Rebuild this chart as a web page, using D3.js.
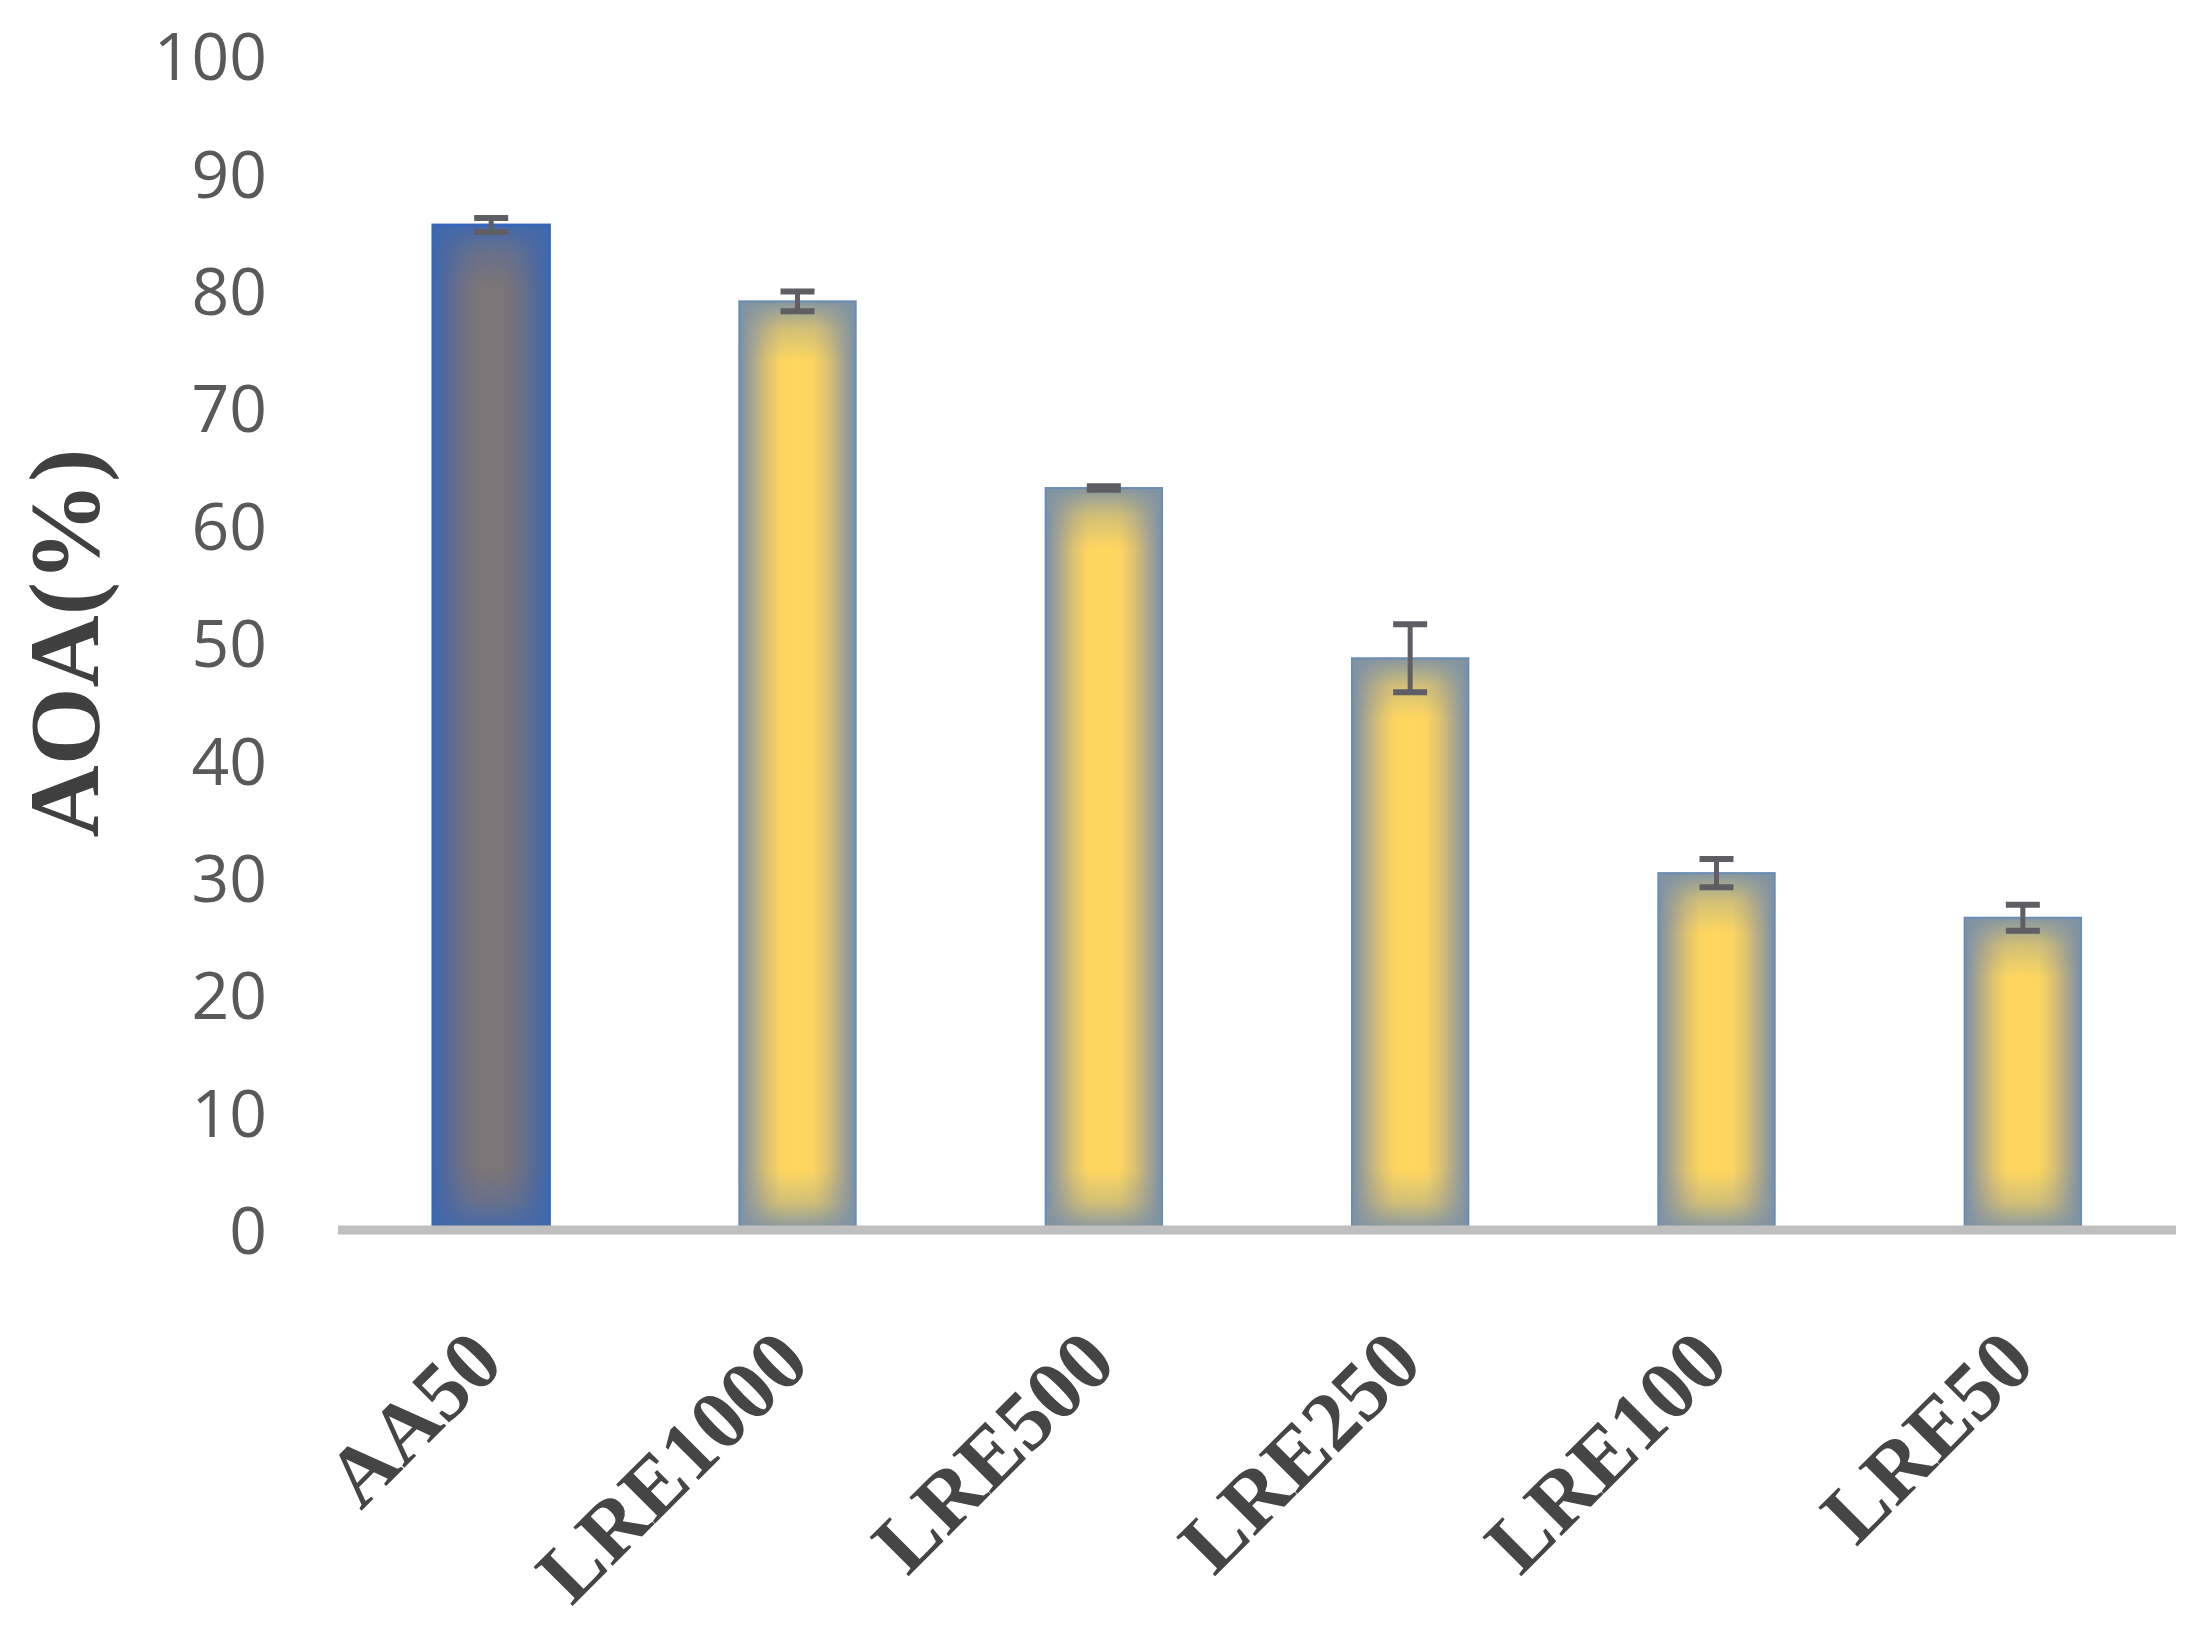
<!DOCTYPE html>
<meta charset="utf-8">
<style>
  body { margin: 0; background: #fff; }
</style>
<svg width="2197" height="1641"></svg>
<script src="https://d3js.org/d3.v7.min.js"></script>
<script>
// sample names, mean AOA (%) and error bar size
var categories = ["AA50", "LRE1000", "LRE500", "LRE250", "LRE100", "LRE50"]
var values = [85.6, 79.1, 63.2, 48.7, 30.4, 26.6]
var errors = [0.6, 0.85, 0.15, 2.9, 1.2, 1.1]
var yTicks = [0, 10, 20, 30, 40, 50, 60, 70, 80, 90, 100]

var svg = d3.select('svg')
svg.append('rect').attr('width', 2197).attr('height', 1641).attr('fill', '#fff')

var x = d3.scaleBand()
  .domain(categories)
  .range([338, 2176])
  .paddingInner(0.62)
  .paddingOuter(0.31)

var y = d3.scaleLinear().domain([0, 100]).range([1230, 56])

// gradients: edges bluish, centre yellow (grey for the reference bar)
var defs = svg.append('defs')

function sideGradient(id, stops) {
  var g = defs.append('linearGradient').attr('id', id)
    .attr('x1', 0).attr('x2', 1).attr('y1', 0).attr('y2', 0)
  stops.forEach(function (s) {
    g.append('stop').attr('offset', s[0]).attr('stop-color', s[1])
  })
}
sideGradient('yellowSide', [
  [0, '#7890a8'], [0.1, '#a3a391'], [0.24, '#dcc171'], [0.36, '#fbd561'],
  [0.5, '#ffd75e'], [0.64, '#fbd561'], [0.76, '#dcc171'], [0.9, '#a3a391'], [1, '#7890a8']
])
sideGradient('greySide', [
  [0, '#3d68b2'], [0.1, '#52699a'], [0.25, '#6c7084'], [0.38, '#7b7479'],
  [0.5, '#7c7578'], [0.62, '#7b7479'], [0.75, '#6c7084'], [0.9, '#52699a'], [1, '#3d68b2']
])

function fadeGradient(id, color, down) {
  var g = defs.append('linearGradient').attr('id', id)
    .attr('x1', 0).attr('x2', 0).attr('y1', down ? 0 : 1).attr('y2', down ? 1 : 0)
  g.append('stop').attr('offset', 0).attr('stop-color', color).attr('stop-opacity', 0.95)
  g.append('stop').attr('offset', 0.45).attr('stop-color', color).attr('stop-opacity', 0.35)
  g.append('stop').attr('offset', 1).attr('stop-color', color).attr('stop-opacity', 0)
}
fadeGradient('yellowTop', '#7f93a4', true)
fadeGradient('yellowBottom', '#7f93a4', false)
fadeGradient('greyTop', '#4068ae', true)
fadeGradient('greyBottom', '#4068ae', false)

var fadeH = 60

var bars = svg.append('g').attr('class', 'bars')
  .selectAll('g')
  .data(categories)
  .enter().append('g')

bars.append('rect')
  .attr('x', function (d) { return x(d) })
  .attr('y', function (d, i) { return y(values[i]) })
  .attr('width', x.bandwidth())
  .attr('height', function (d, i) { return y(0) - y(values[i]) })
  .attr('fill', function (d, i) { return i === 0 ? 'url(#greySide)' : 'url(#yellowSide)' })

bars.append('rect')
  .attr('x', function (d) { return x(d) })
  .attr('y', function (d, i) { return y(values[i]) })
  .attr('width', x.bandwidth())
  .attr('height', function (d, i) { return Math.min(fadeH, (y(0) - y(values[i])) / 2) })
  .attr('fill', function (d, i) { return i === 0 ? 'url(#greyTop)' : 'url(#yellowTop)' })

bars.append('rect')
  .attr('x', function (d) { return x(d) })
  .attr('y', function (d, i) { return y(0) - Math.min(fadeH, (y(0) - y(values[i])) / 2) })
  .attr('width', x.bandwidth())
  .attr('height', function (d, i) { return Math.min(fadeH, (y(0) - y(values[i])) / 2) })
  .attr('fill', function (d, i) { return i === 0 ? 'url(#greyBottom)' : 'url(#yellowBottom)' })

bars.append('rect')
  .attr('x', function (d) { return x(d) })
  .attr('y', function (d, i) { return y(values[i]) })
  .attr('width', x.bandwidth())
  .attr('height', function (d, i) { return y(0) - y(values[i]) })
  .attr('fill', 'none')
  .attr('stroke', function (d, i) { return i === 0 ? '#3766b8' : '#6a8db5' })
  .attr('stroke-width', function (d, i) { return i === 0 ? 3 : 2 })

// x axis line
svg.append('line')
  .attr('x1', x.range()[0]).attr('x2', x.range()[1])
  .attr('y1', y(0)).attr('y2', y(0))
  .attr('stroke', '#bfbfbf').attr('stroke-width', 9)

// error bars
var err = svg.append('g').attr('class', 'errors')
  .attr('stroke', '#5e5e64').attr('fill', 'none')
categories.forEach(function (c, i) {
  var cx = x(c) + x.bandwidth() / 2
  var hi = y(values[i] + errors[i])
  var lo = y(values[i] - errors[i])
  err.append('line').attr('x1', cx).attr('x2', cx).attr('y1', hi).attr('y2', lo).attr('stroke-width', 5)
  err.append('line').attr('x1', cx - 17).attr('x2', cx + 17).attr('y1', hi).attr('y2', hi).attr('stroke-width', 6)
  err.append('line').attr('x1', cx - 17).attr('x2', cx + 17).attr('y1', lo).attr('y2', lo).attr('stroke-width', 6)
})

// y axis: labels only
var yAxis = svg.append('g')
  .attr('transform', 'translate(275,0)')
  .call(d3.axisLeft(y).tickValues(yTicks).tickSize(0).tickPadding(8))
yAxis.select('.domain').remove()
yAxis.selectAll('text')
  .attr('dy', '0.36em')
  .attr('font-family', 'Open Sans')
  .attr('font-size', 66)
  .attr('fill', '#595959')

// category labels, rotated
svg.append('g').selectAll('text')
  .data(categories)
  .enter().append('text')
  .attr('transform', function (d) {
    return 'translate(' + (x(d) + x.bandwidth() / 2 + 15) + ',1366) rotate(-45)'
  })
  .attr('text-anchor', 'end')
  .attr('font-family', 'Liberation Serif')
  .attr('font-weight', 'bold')
  .attr('font-size', 84)
  .attr('fill', '#454545')
  .text(function (d) { return d })

// y axis title
svg.append('text')
  .attr('transform', 'translate(98,643) rotate(-90)')
  .attr('text-anchor', 'middle')
  .attr('font-family', 'Liberation Serif')
  .attr('font-weight', 'bold')
  .attr('font-size', 100)
  .attr('fill', '#404040')
  .text('AOA(%)')
</script>
